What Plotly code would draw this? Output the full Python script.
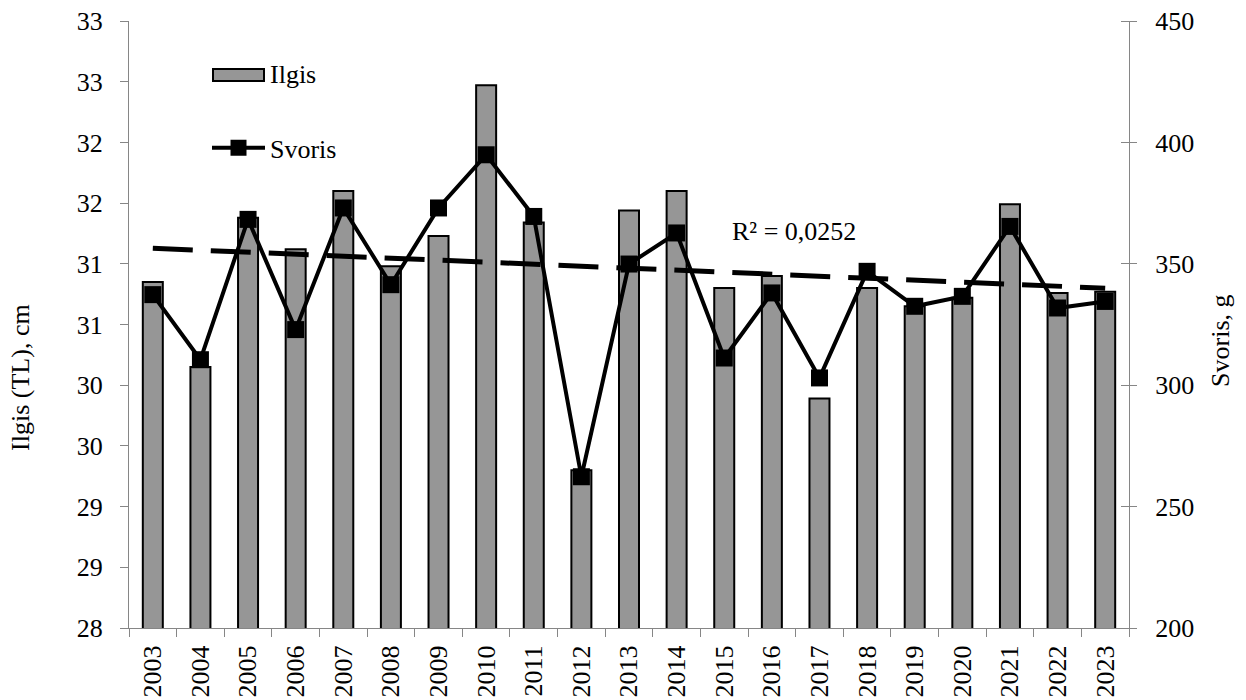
import numpy as np
import plotly.graph_objects as go

years = ["2003", "2004", "2005", "2006", "2007", "2008", "2009", "2010", "2011", "2012",
         "2013", "2014", "2015", "2016", "2017", "2018", "2019", "2020", "2021", "2022", "2023"]
ilgis = [30.85, 30.15, 31.38, 31.12, 31.60, 30.98, 31.23, 32.47, 31.34, 29.30,
         31.44, 31.60, 30.80, 30.90, 29.89, 30.80, 30.65, 30.72, 31.49, 30.76, 30.77]
svoris = [337.3, 310.5, 368.3, 322.9, 373.0, 341.4, 373.0, 394.9, 369.5, 262.3,
          349.9, 362.7, 311.2, 338.0, 303.0, 346.9, 332.5, 336.6, 365.4, 331.8, 334.5]

left_tickvals = [28, 28.5, 29, 29.5, 30, 30.5, 31, 31.5, 32, 32.5, 33]
left_ticktext = ["28", "29", "29", "30", "30", "31", "31", "32", "32", "33", "33"]
right_tickvals = [200, 250, 300, 350, 400, 450]
r2_label = "R² = 0,0252"

# linear trend of Ilgis
idx = np.arange(len(years))
slope, intercept = np.polyfit(idx, np.array(ilgis), 1)
trend = slope * idx + intercept

FONT = "Liberation Serif"
FS = 26
AXC = "#868686"
BAR_FILL = "#969696"

fig = go.Figure()
fig.add_trace(go.Bar(
    x=years, y=ilgis, name="Ilgis", width=0.42, showlegend=False,
    marker=dict(color=BAR_FILL, line=dict(color="black", width=2)),
    yaxis="y",
))
fig.add_trace(go.Scatter(
    x=years, y=trend, mode="lines", showlegend=False,
    line=dict(color="black", width=5, dash="40px,18px"), yaxis="y",
))
fig.add_trace(go.Scatter(
    x=years, y=svoris, name="Svoris", mode="lines+markers",
    line=dict(color="black", width=4),
    marker=dict(symbol="square", size=17, color="black"),
    yaxis="y2", legend="legend2",
))
# legend swatch for the bars: outlined box (two black strokes + grey inner)
fig.add_trace(go.Scatter(x=[years[0]], y=[None], name="Ilgis", mode="lines",
                         line=dict(color="black", width=10), legend="legend",
                         hoverinfo="skip"))
fig.add_trace(go.Scatter(x=[years[0]], y=[None], name=" ", mode="lines",
                         line=dict(color="black", width=10), legend="legend3",
                         hoverinfo="skip"))
fig.add_trace(go.Scatter(x=[years[0]], y=[None], name=" ", mode="lines",
                         line=dict(color=BAR_FILL, width=10), legend="legend4",
                         hoverinfo="skip"))
fig.add_trace(go.Scatter(x=[years[0]], y=[None], yaxis="y3", showlegend=False,
                         hoverinfo="skip"))

LX = 0.078
LY1 = 0.911
PX = 1.0 / 607
leg_common = dict(xanchor="left", yanchor="middle", bgcolor="rgba(0,0,0,0)",
                  font=dict(family=FONT, size=FS, color="black"))
fig.update_layout(
    template="none",
    width=1246, height=700,
    margin=dict(l=129, r=117, t=21, b=72, autoexpand=False),
    paper_bgcolor="white", plot_bgcolor="white",
    font=dict(family=FONT, size=FS, color="black"),
    xaxis=dict(
        type="category", range=[-0.5, len(years) - 0.5], tickangle=-90,
        showline=True, linecolor=AXC, linewidth=1,
        ticks="outside", ticklen=8, tickcolor=AXC, tickson="boundaries",
        showgrid=False, zeroline=False, ticklabelstandoff=6, automargin=False,
        tickfont=dict(family=FONT, size=FS, color="black"),
    ),
    yaxis=dict(
        range=[28, 33], tickvals=left_tickvals, ticktext=left_ticktext,
        showline=True, linecolor=AXC, linewidth=1, ticks="outside", ticklen=8,
        tickcolor=AXC, showgrid=False, zeroline=False, ticklabelstandoff=12,
        automargin=False, tickfont=dict(family=FONT, size=FS, color="black"),
    ),
    yaxis2=dict(
        range=[200, 450], tickvals=right_tickvals, overlaying="y", side="right",
        showline=True, linecolor=AXC, linewidth=1, ticks="outside", ticklen=7,
        tickcolor=AXC, showgrid=False, zeroline=False, ticklabelstandoff=13,
        automargin=False, tickfont=dict(family=FONT, size=FS, color="black"),
    ),
    yaxis3=dict(
        range=[200, 450], tickvals=right_tickvals, overlaying="y", anchor="free",
        position=1, side="left", showline=False, ticks="outside", ticklen=8,
        tickcolor=AXC, showticklabels=False, showgrid=False, zeroline=False,
        automargin=False,
    ),
    legend=dict(x=LX, y=LY1 + 2 * PX, itemwidth=53, **leg_common),
    legend3=dict(x=LX, y=LY1 - 2 * PX, itemwidth=53, **leg_common),
    legend4=dict(x=LX + 0.002, y=LY1, itemwidth=49, **leg_common),
    legend2=dict(x=LX, y=0.791, itemwidth=53, **leg_common),
    showlegend=True,
    annotations=[
        dict(text="Ilgis (TL), cm", textangle=-90, xref="paper", yref="paper",
             x=-0.108, y=0.412, xanchor="center", yanchor="middle",
             showarrow=False, font=dict(family=FONT, size=FS, color="black")),
        dict(text="Svoris, g", textangle=-90, xref="paper", yref="paper",
             x=1.092, y=0.473, xanchor="center", yanchor="middle",
             showarrow=False, font=dict(family=FONT, size=FS, color="black")),
        dict(text=r2_label, xref="paper", yref="paper", x=0.601, y=0.653,
             xanchor="left", yanchor="middle", showarrow=False,
             font=dict(family=FONT, size=FS, color="black")),
    ],
)

fig.write_html("out.html", config={"displayModeBar": False},
               post_script="document.body.style.margin='0';document.body.style.padding='0';")
